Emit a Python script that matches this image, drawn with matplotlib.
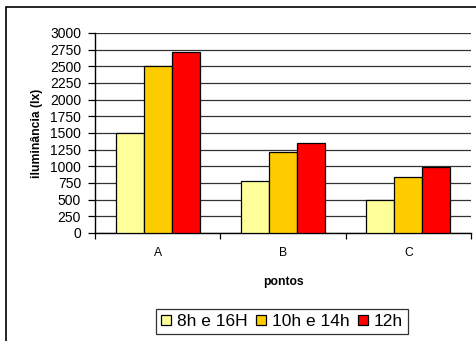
import matplotlib
matplotlib.use("Agg")
import matplotlib.pyplot as plt
from matplotlib.patches import Rectangle
import numpy as np

plt.rcParams['font.family'] = ['Liberation Sans', 'DejaVu Sans']

categories = ["A", "B", "C"]
series_names = ["8h e 16H", "10h e 14h", "12h"]
values_8h_16h = [1500, 780, 500]
values_10h_14h = [2500, 1210, 840]
values_12h = [2710, 1350, 985]
series_values = [values_8h_16h, values_10h_14h, values_12h]
series_colors = ["#FFFF99", "#FFCC00", "#FF0000"]
yticks = list(range(0, 3001, 250))

W, H = 477, 341
fig = plt.figure(figsize=(W / 100, H / 100), dpi=100)

# outer chart frame
fig.patches.append(Rectangle((6 / W, -0.1), 1.2, 1 - 7 / H + 0.1,
                             transform=fig.transFigure, fill=False,
                             edgecolor="black", linewidth=1.2))

ax = fig.add_axes([95 / W, 1 - 233 / H, 376 / W, 200 / H])
x = np.arange(len(categories))
bw = 0.2235
for i, (name, vals, col) in enumerate(zip(series_names, series_values, series_colors)):
    ax.bar(x + (i - 1) * bw, vals, width=bw, color=col, edgecolor="black",
           linewidth=0.9, label=name, zorder=3)

ax.set_xlim(-0.5, len(categories) - 0.5)
ax.set_ylim(0, 3000)
ax.set_yticks(yticks)
ax.set_yticklabels([str(v) for v in yticks], fontsize=10)
ax.yaxis.grid(True, color="#333333", linewidth=0.9, zorder=0)
ax.set_axisbelow(True)

# category ticks sit between groups; labels centred on groups
ax.set_xticks(np.arange(-0.5, len(categories), 1.0))
ax.set_xticklabels([])
ax.set_xticks(x, minor=True)
ax.set_xticklabels(categories, minor=True, fontsize=8.7)
ax.tick_params(axis="x", which="major", length=4, width=0.9, direction="out")
ax.tick_params(axis="x", which="minor", length=0, pad=10)
ax.tick_params(axis="y", length=5, width=0.9, pad=5)

for s in ("top", "right"):
    ax.spines[s].set_visible(False)
for s in ("left", "bottom"):
    ax.spines[s].set_linewidth(1.0)

ax.set_ylabel("iluminância (lx)", fontsize=8.7, fontweight="bold", labelpad=5)
ax.set_xlabel("pontos", fontsize=8.7, fontweight="bold", labelpad=12)

leg = ax.legend(loc="center", bbox_to_anchor=(282 / W, 1 - 321.5 / H),
                bbox_transform=fig.transFigure, ncol=3, fontsize=12.5,
                frameon=True, fancybox=False, edgecolor="black",
                handlelength=0.55, handleheight=0.55, handletextpad=0.35,
                columnspacing=0.5, borderpad=0.3, borderaxespad=0)
leg.get_frame().set_linewidth(0.9)

fig.savefig("out.png", dpi=100)
